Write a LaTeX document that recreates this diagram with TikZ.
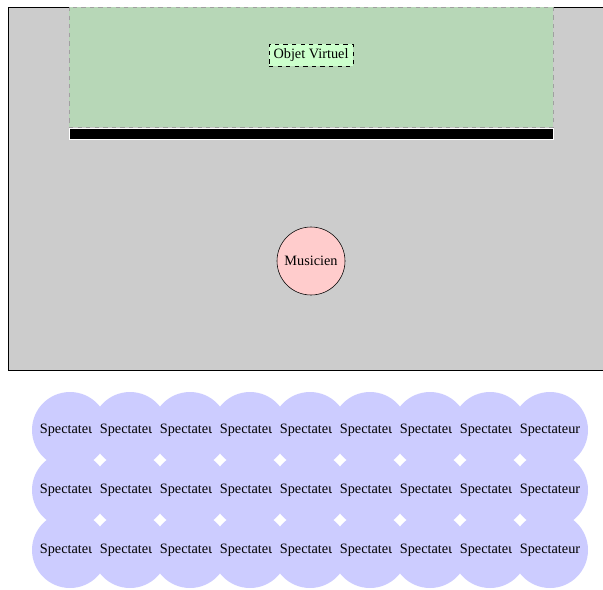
\documentclass[tikz,border=0pt]{standalone}
\usepackage{fontspec}
\setmainfont{Liberation Serif}
\usepackage{xcolor}
\definecolor{stagegray}{HTML}{CCCCCC}
\definecolor{zonegreen}{HTML}{B7D7B7}
\definecolor{objgreen}{HTML}{CCFFCC}
\definecolor{musred}{HTML}{FFCCCC}
\definecolor{specblue}{HTML}{CCCCFF}
\definecolor{dashgray}{HTML}{A0A0A0}

\begin{document}
\begin{tikzpicture}[
  x=0.7pt, y=-0.7pt,
  font=\normalsize,
  stage/.style={draw=black, fill=stagegray},
  zone/.style={draw=dashgray, dashed, fill=zonegreen},
  screen/.style={draw=white, fill=black},
  objet/.style={draw=black, dashed, fill=objgreen, inner sep=3.2pt},
  musicien/.style={circle, draw=black, fill=musred, minimum size=47.6pt, inner sep=0pt},
  spectateur/.style={circle, fill=specblue, minimum size=53.2pt, inner sep=0pt}
]
\useasboundingbox (0,0) rectangle (603,589);

% scene
\path[stage] (8,7) rectangle (614,370);
\path[zone] (69,7) rectangle (553,127);
\path[screen] (69,128) rectangle (553,139);

\node[objet] (obj) at (311,55) {Objet Virtuel};
\node[musicien] (mus) at (311,261) {Musicien};

% public
\foreach \r in {0,1,2}{
  \foreach \c in {0,...,8}{
    \node[spectateur] (sp-\r-\c) at (70+60*\c,430+60*\r) {Spectateur};
  }
}

\end{tikzpicture}
\end{document}
